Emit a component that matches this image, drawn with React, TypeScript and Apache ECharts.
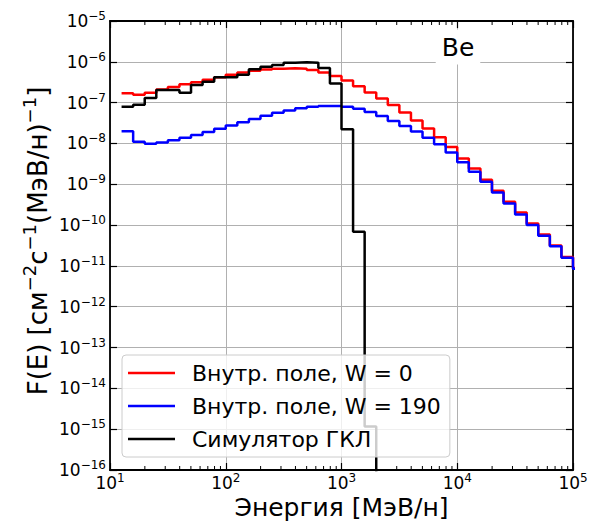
import React, { useEffect, useRef } from "react";
import * as echarts from "echarts";

// Bin edges (MeV/n), 0.1-decade bins
const binEdges = [
  12.589, 15.849, 19.953, 25.119, 31.623, 39.811, 50.119, 63.096, 79.433, 100,
  125.89, 158.49, 199.53, 251.19, 316.23, 398.11, 501.19, 630.96, 794.33, 1000,
  1258.9, 1584.9, 1995.3, 2511.9, 3162.3, 3981.1, 5011.9, 6309.6, 7943.3, 10000,
  12589, 15849, 19953, 25119, 31623, 39811, 50119, 63096, 79433, 100000, 125893,
];

const redValues = [
  1.7e-7, 1.55e-7, 1.74e-7, 2.09e-7, 2.4e-7, 2.82e-7, 3.16e-7, 3.63e-7, 4.17e-7, 4.79e-7,
  5.5e-7, 6.03e-7, 6.46e-7, 6.76e-7, 6.92e-7, 6.76e-7, 6.31e-7, 5.5e-7, 4.47e-7, 3.47e-7,
  2.51e-7, 1.78e-7, 1.26e-7, 8.71e-8, 5.75e-8, 3.63e-8, 2.34e-8, 1.41e-8, 8.13e-9, 4.27e-9,
  2.45e-9, 1.29e-9, 6.92e-10, 3.72e-10, 2.04e-10, 1.1e-10, 5.89e-11, 3.16e-11, 1.66e-11, 8.9e-12,
];

const blueValues = [
  2.0e-8, 1.1e-8, 9.8e-9, 1.05e-8, 1.2e-8, 1.38e-8, 1.62e-8, 1.91e-8, 2.29e-8, 2.75e-8,
  3.31e-8, 3.98e-8, 4.79e-8, 5.62e-8, 6.46e-8, 7.24e-8, 7.94e-8, 8.32e-8, 8.32e-8, 7.94e-8,
  7.08e-8, 5.89e-8, 4.68e-8, 3.55e-8, 2.69e-8, 1.95e-8, 1.38e-8, 9.55e-9, 6.03e-9, 3.47e-9,
  2.04e-9, 1.15e-9, 6.31e-10, 3.39e-10, 1.82e-10, 1.0e-10, 5.5e-11, 3.02e-11, 1.58e-11, 8.5e-12,
];

const blackValues = [
  7.94e-8, 8.91e-8, 1.29e-7, 2.04e-7, 2.04e-7, 1.74e-7, 2.69e-7, 3.24e-7, 4.17e-7, 4.17e-7,
  4.79e-7, 6.61e-7, 7.59e-7, 8.32e-7, 9.55e-7, 9.77e-7, 9.55e-7, 7.08e-7, 2.95e-7, 2.24e-8,
  6.9e-11, 1.17e-15, 1e-19,
];

const seriesNames = ["Внутр. поле, W = 0", "Внутр. поле, W = 190", "Симулятор ГКЛ"];
const seriesColors = ["#ff0000", "#0000ff", "#000000"];

// axis ranges (decades)
const xMinExp = 1;
const xMaxExp = 5;
const yMinExp = -16;
const yMaxExp = -5;

// minor tick positions on the energy axis (2..9 x 10^n)
const minorTickValues = [
  20, 30, 40, 50, 60, 70, 80, 90,
  200, 300, 400, 500, 600, 700, 800, 900,
  2000, 3000, 4000, 5000, 6000, 7000, 8000, 9000,
  20000, 30000, 40000, 50000, 60000, 70000, 80000, 90000,
];

const FONT = "DejaVu Sans";
const lg = (v: number) => Math.log10(v);

function stepData(values: number[]) {
  const pts: number[][] = values.map((v, i) => [lg(binEdges[i]), lg(v)]);
  pts.push([lg(binEdges[values.length]), lg(values[values.length - 1])]);
  return pts;
}

function expLabel(v: number) {
  const e = Math.round(v);
  const s = e < 0 ? "\u2212" + String(-e) : String(e);
  return `{b|10}{e|${s}}`;
}

const tickRich = {
  b: { fontSize: 17, lineHeight: 22, fontFamily: FONT, color: "#000" },
  e: { fontSize: 12, lineHeight: 8, verticalAlign: "top", fontFamily: FONT, color: "#000" },
};

export default function App() {
  const ref = useRef<HTMLDivElement>(null);
  useEffect(() => {
    if (!ref.current) return;
    const chart = echarts.init(ref.current, null, { renderer: "svg" });
    const axisLine = { show: true, onZero: false, lineStyle: { color: "#000", width: 1.8 } };
    const axisTick = { show: true, inside: true, length: 7, lineStyle: { color: "#000", width: 1.2 } };
    const splitLine = { show: true, lineStyle: { color: "#b0b0b0", width: 1 } };
    const option: any = {
      animation: false,
      backgroundColor: "#fff",
      grid: { left: 110, top: 21, right: 24, bottom: 54, containLabel: false },
      xAxis: [
        {
          type: "value", min: xMinExp, max: xMaxExp, interval: 1, position: "bottom",
          axisLine, axisTick, splitLine,
          axisLabel: { margin: 1.5, formatter: expLabel, rich: tickRich },
        },
        {
          type: "value", min: xMinExp, max: xMaxExp, interval: 1, position: "top",
          axisLine, axisTick, splitLine: { show: false }, axisLabel: { show: false },
        },
      ],
      yAxis: [
        {
          type: "value", min: yMinExp, max: yMaxExp, interval: 1, position: "left",
          axisLine, axisTick, splitLine,
          axisLabel: { margin: 4, formatter: expLabel, rich: tickRich },
        },
        {
          type: "value", min: yMinExp, max: yMaxExp, interval: 1, position: "right",
          axisLine, axisTick, splitLine: { show: false }, axisLabel: { show: false },
        },
      ],
      legend: {
        data: seriesNames,
        orient: "vertical",
        left: 122,
        top: 355,
        z: 20,
        padding: [5, 9, 5, 6],
        icon: "rect",
        itemWidth: 47,
        itemHeight: 2.5,
        itemGap: 7,
        backgroundColor: "rgba(255,255,255,0.8)",
        borderColor: "#cccccc",
        borderWidth: 1,
        borderRadius: 4,
        textStyle: { fontFamily: FONT, fontSize: 22, color: "#000", lineHeight: 26, padding: [0, 0, 0, 12] },
      },
      graphic: [
        {
          type: "text", x: 458, y: 47, z: 10,
          style: {
            text: "Be", fontFamily: FONT, fontSize: 25, fill: "#000", align: "center", verticalAlign: "middle",
            backgroundColor: "#fff", padding: [5, 6, 5, 6],
          },
        },
        {
          type: "text", x: 341.5, y: 507,
          style: {
            text: "Энергия [МэВ/н]", fontFamily: FONT, fontSize: 25, lineHeight: 25, fill: "#000",
            align: "center", verticalAlign: "middle",
          },
        },
        {
          type: "text", x: 38, y: 241, rotation: Math.PI / 2,
          style: {
            text: "{b|F(E) [см}{s|\u22122}{b|с}{s|\u22121}{b|(МэВ/н)}{s|\u22121}{b|]}",
            align: "center", verticalAlign: "middle",
            rich: {
              b: { fontFamily: FONT, fontSize: 26, lineHeight: 36, fill: "#000" },
              s: { fontFamily: FONT, fontSize: 18, lineHeight: 18, verticalAlign: "top", fill: "#000" },
            },
          },
        },
      ],
      series: [
        ...[redValues, blueValues, blackValues].map((vals, i) => ({
          name: seriesNames[i],
          type: "line",
          step: "end",
          data: stepData(vals),
          symbol: "none",
          showSymbol: false,
          clip: true,
          color: seriesColors[i],
          lineStyle: { color: seriesColors[i], width: 2.5 },
          z: 2,
        })),
        {
          type: "custom",
          silent: true,
          clip: false,
          z: 10,
          data: minorTickValues.map((v) => [lg(v), yMinExp]),
          renderItem: (params: any, api: any) => {
            const x = api.value(0);
            const b = api.coord([x, yMinExp]);
            const t = api.coord([x, yMaxExp]);
            return {
              type: "group",
              children: [
                { type: "line", shape: { x1: b[0], y1: b[1], x2: b[0], y2: b[1] - 4 }, style: { stroke: "#000", lineWidth: 1 } },
                { type: "line", shape: { x1: t[0], y1: t[1], x2: t[0], y2: t[1] + 4 }, style: { stroke: "#000", lineWidth: 1 } },
              ],
            };
          },
        },
      ],
    };
    chart.setOption(option);
    return () => chart.dispose();
  }, []);
  return <div ref={ref} style={{ position: "fixed", left: 0, top: 0, width: 597, height: 524 }} />;
}
